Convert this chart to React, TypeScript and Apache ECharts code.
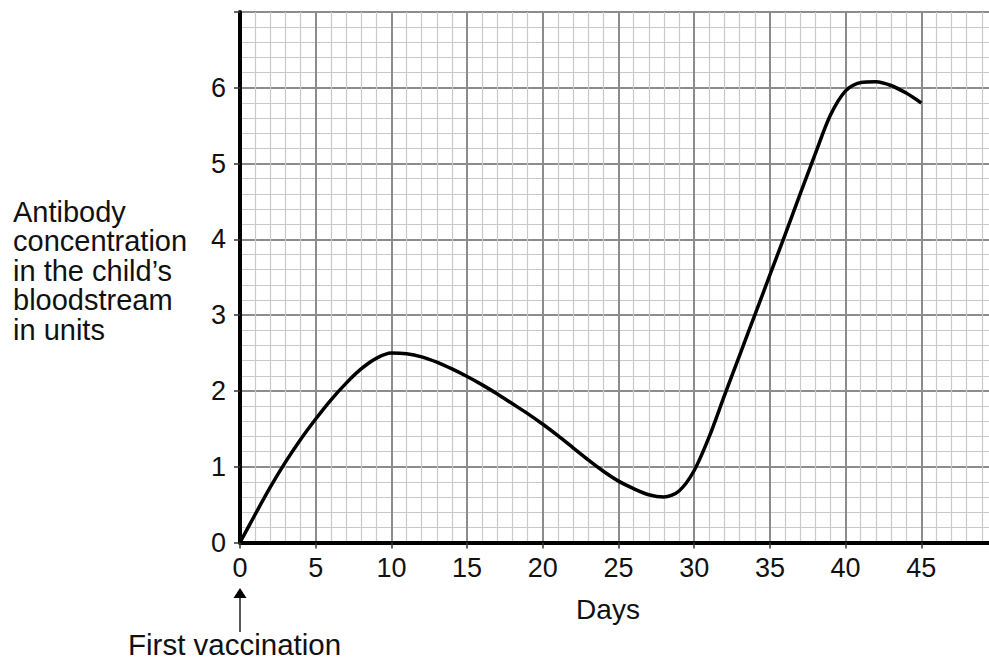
import React, { useEffect, useRef } from "react";
import * as echarts from "echarts";

const days = [
  0, 1, 2, 3, 4, 5, 6, 7, 8, 9, 10, 11, 12, 13, 14, 15, 16, 17, 18, 19, 20, 21, 22,
  23, 24, 25, 26, 27, 28, 29, 30, 31, 32, 33, 34, 35, 36, 37, 38, 39, 40, 41, 42, 43,
  44, 45,
];
const antibody = [
  0, 0.37, 0.73, 1.06, 1.36, 1.63, 1.88, 2.1, 2.29, 2.43, 2.5, 2.49, 2.45, 2.38,
  2.29, 2.19, 2.08, 1.96, 1.83, 1.7, 1.56, 1.41, 1.25, 1.09, 0.94, 0.81, 0.71, 0.63,
  0.6, 0.68, 0.95, 1.4, 1.94, 2.47, 3.0, 3.53, 4.06, 4.6, 5.13, 5.64, 5.96, 6.07,
  6.08, 6.03, 5.93, 5.8,
];
const yTitleLines = ["Antibody", "concentration", "in the child\u2019s", "bloodstream", "in units"];
const xTitle = "Days";
const noteText = "First vaccination";
const xHiddenTicks = [50];
const yHiddenTicks = [7];

const FONT = "'Liberation Sans', Arial, Helvetica, sans-serif";

export default function App() {
  const ref = useRef<HTMLDivElement>(null);
  useEffect(() => {
    document.body.style.margin = "0";
    if (!ref.current) return;
    const chart = echarts.init(ref.current, undefined, { renderer: "svg" });
    const data = days.map((d, i) => [d, antibody[i]]);
    chart.setOption({
      animation: false,
      backgroundColor: "#ffffff",
      grid: { left: 240, right: 2, top: 12, bottom: 119.5, containLabel: false },
      xAxis: {
        type: "value",
        min: 0,
        max: 50,
        interval: 5,
        axisLine: { show: true, onZero: false, lineStyle: { color: "#000", width: 4 } },
        axisTick: { show: true, length: 6, lineStyle: { color: "#333", width: 1.5 } },
        axisLabel: {
          margin: 12,
          fontSize: 27,
          color: "#111",
          fontFamily: FONT,
          formatter: (v: number) => (xHiddenTicks.includes(v) ? "" : String(v)),
        },
        splitLine: { show: true, lineStyle: { color: "#8c8c8c", width: 2 } },
        minorTick: { show: false, splitNumber: 5 },
        minorSplitLine: { show: true, lineStyle: { color: "#c9c9c9", width: 1.2 } },
      },
      yAxis: {
        type: "value",
        min: 0,
        max: 7,
        interval: 1,
        axisLine: { show: true, onZero: false, lineStyle: { color: "#000", width: 4 } },
        axisTick: { show: true, length: 6, lineStyle: { color: "#333", width: 1.5 } },
        axisLabel: {
          margin: 14,
          fontSize: 27,
          color: "#111",
          fontFamily: FONT,
          formatter: (v: number) => (yHiddenTicks.includes(v) ? "" : String(v)),
        },
        splitLine: { show: true, lineStyle: { color: "#8c8c8c", width: 2 } },
        minorTick: { show: false, splitNumber: 5 },
        minorSplitLine: { show: true, lineStyle: { color: "#c9c9c9", width: 1.2 } },
      },
      series: [
        {
          type: "line",
          data,
          smooth: 0.3,
          showSymbol: false,
          symbol: "none",
          clip: false,
          lineStyle: { color: "#000", width: 3.5 },
          z: 5,
        },
      ],
      graphic: [
        {
          type: "text",
          left: 13,
          top: 197,
          style: {
            text: yTitleLines.join("\n"),
            font: `29px ${FONT}`,
            fill: "#111",
            lineHeight: 29.5,
          },
        },
        {
          type: "text",
          x: 608,
          y: 609,
          style: {
            text: xTitle,
            font: `28px ${FONT}`,
            fill: "#111",
            align: "center",
            verticalAlign: "middle",
          },
        },
        {
          type: "line",
          shape: { x1: 240, y1: 632, x2: 240, y2: 596 },
          style: { stroke: "#222", lineWidth: 1.5 },
        },
        {
          type: "polygon",
          shape: { points: [[240, 588], [233.5, 598], [246.5, 598]] },
          style: { fill: "#000" },
        },
        {
          type: "text",
          x: 128,
          y: 644,
          style: {
            text: noteText,
            font: `29.5px ${FONT}`,
            fill: "#111",
            align: "left",
            verticalAlign: "middle",
          },
        },
      ],
    });
    return () => chart.dispose();
  }, []);
  return (
    <div style={{ width: 989, height: 662, overflow: "hidden", position: "relative" }}>
      <div ref={ref} style={{ width: 1000, height: 662 }} />
    </div>
  );
}
